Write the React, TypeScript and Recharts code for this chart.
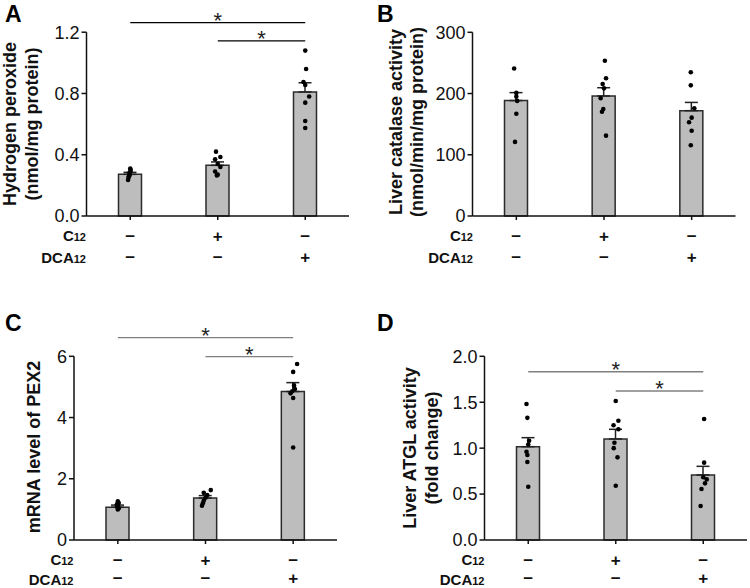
import React from 'react'
import { ComposedChart, Bar, ErrorBar, Scatter, XAxis, YAxis, ReferenceLine } from 'recharts'

const FONT = '"Liberation Sans", Arial, sans-serif'

// treatment groups, and the +/- table shown under every panel
const groups = ['ctrl', 'c12', 'dca12']
const c12Row = ['−', '+', '−']
const dca12Row = ['−', '−', '+']

// A: hydrogen peroxide (nmol/mg protein)
const h2o2Mean = [0.272, 0.331, 0.81]
const h2o2Sem = [0.013, 0.022, 0.06]
const h2o2Dots = [
  { g: 0.0, v: 0.31 }, { g: 0.005, v: 0.3 }, { g: 0.0, v: 0.29 }, { g: -0.01, v: 0.28 },
  { g: -0.005, v: 0.27 }, { g: -0.015, v: 0.26 }, { g: -0.02, v: 0.25 }, { g: -0.025, v: 0.235 },
  { g: 0.98, v: 0.42 }, { g: 1.03, v: 0.385 }, { g: 0.97, v: 0.37 }, { g: 1.0, v: 0.34 },
  { g: 1.03, v: 0.32 }, { g: 0.97, v: 0.29 }, { g: 1.0, v: 0.27 }, { g: 0.99, v: 0.265 },
  { g: 2.0, v: 1.08 }, { g: 2.01, v: 0.96 }, { g: 1.98, v: 0.875 }, { g: 2.0, v: 0.855 },
  { g: 2.045, v: 0.78 }, { g: 2.0, v: 0.74 }, { g: 2.0, v: 0.62 }, { g: 2.0, v: 0.575 },
]
const h2o2Ticks = [0, 0.4, 0.8, 1.2]

// B: liver catalase activity (nmol/min/mg protein)
const catMean = [188.5, 196, 172]
const catSem = [13, 13.5, 13.5]
const catDots = [
  { g: -0.025, v: 241 }, { g: 0.0, v: 201 }, { g: 0.0, v: 195 }, { g: 0.01, v: 188 },
  { g: 0.0, v: 167 }, { g: -0.015, v: 121 },
  { g: 1.01, v: 253.6 }, { g: 1.023, v: 224.9 }, { g: 0.985, v: 215.6 }, { g: 1.0, v: 208.5 },
  { g: 0.962, v: 192.2 }, { g: 0.992, v: 174.7 }, { g: 0.977, v: 170.3 }, { g: 1.023, v: 131.2 },
  { g: 1.99, v: 234.7 }, { g: 1.99, v: 213.4 }, { g: 2.03, v: 175.9 }, { g: 2.0, v: 160.6 },
  { g: 1.97, v: 153 }, { g: 2.0, v: 139.3 }, { g: 1.99, v: 115.5 },
]
const catTicks = [0, 100, 200, 300]

// C: mRNA level of PEX2
const pexMean = [1.07, 1.37, 4.85]
const pexSem = [0.07, 0.08, 0.29]
const pexDots = [
  { g: 0.0, v: 1.26 }, { g: 0.01, v: 1.21 }, { g: -0.01, v: 1.17 }, { g: 0.0, v: 1.13 },
  { g: -0.01, v: 1.09 }, { g: 0.01, v: 1.04 }, { g: 0.0, v: 1.0 },
  { g: 1.06, v: 1.63 }, { g: 0.98, v: 1.54 }, { g: 1.02, v: 1.47 }, { g: 1.0, v: 1.38 },
  { g: 0.98, v: 1.28 }, { g: 0.97, v: 1.2 }, { g: 0.96, v: 1.12 },
  { g: 2.045, v: 5.75 }, { g: 2.0, v: 5.49 }, { g: 2.01, v: 5.05 }, { g: 2.02, v: 4.93 },
  { g: 1.99, v: 4.86 }, { g: 1.97, v: 4.79 }, { g: 2.0, v: 4.64 }, { g: 2.0, v: 3.02 },
]
const pexTicks = [0, 2, 4, 6]

// D: liver ATGL activity (fold change)
const atglMean = [1.016, 1.1, 0.708]
const atglSem = [0.098, 0.105, 0.094]
const atglDots = [
  { g: -0.02, v: 1.48 }, { g: -0.01, v: 1.33 }, { g: 0.01, v: 1.08 }, { g: 0.0, v: 1.04 },
  { g: -0.02, v: 0.96 }, { g: -0.01, v: 0.925 }, { g: -0.01, v: 0.85 }, { g: 0.0, v: 0.58 },
  { g: 1.0, v: 1.513 }, { g: 1.03, v: 1.299 }, { g: 0.975, v: 1.249 }, { g: 1.03, v: 1.205 },
  { g: 0.985, v: 1.059 }, { g: 0.977, v: 1.0 }, { g: 1.02, v: 0.9 }, { g: 1.0, v: 0.591 },
  { g: 2.01, v: 1.317 }, { g: 2.01, v: 0.842 }, { g: 2.0, v: 0.683 }, { g: 2.04, v: 0.66 },
  { g: 2.02, v: 0.617 }, { g: 1.98, v: 0.555 }, { g: 1.97, v: 0.37 },
]
const atglTicks = [0, 0.5, 1, 1.5, 2]

// significance brackets: [from group, to group, height in data units]
const h2o2Brackets: [number, number, number][] = [[0, 2, 1.263], [1, 2, 1.143]]
const pexBrackets: [number, number, number][] = [[0, 2, 6.61], [1, 2, 5.99]]
const atglBrackets: [number, number, number][] = [[0, 2, 1.832], [1, 2, 1.622]]

// rows of the +/- table; second row sits a bit higher in the bottom panels (page edge)
const makeSignTick = (row2: number) => (props: any) => {
  const { x, y, index } = props
  return (
    <g fontFamily={FONT} fontSize={17} fontWeight="bold" fill="#111" textAnchor="middle">
      <text x={x} y={y + 19.6}>{c12Row[index]}</text>
      <text x={x} y={y + row2}>{dca12Row[index]}</text>
    </g>
  )
}

const starLabel = (props: any) => {
  const vb = props.viewBox || {}
  const x1 = vb.x1 ?? vb.x
  const x2 = vb.x2 ?? vb.x + (vb.width || 0)
  const y = vb.y1 ?? vb.y
  return (
    <text x={(x1 + x2) / 2} y={y + 5} textAnchor="middle" fontSize={22} fontFamily={FONT} fill="#222">*</text>
  )
}

interface PanelProps {
  means: number[]
  sems: number[]
  dots: { g: number; v: number }[]
  domain: [number, number]
  ticks: number[]
  fmt: (v: number) => string
  brackets?: [number, number, number][]
  bracketColor?: string
  row2: number
  margin: { top: number; right: number; bottom: number; left: number }
}

function Panel({ means, sems, dots, domain, ticks, fmt, brackets = [], bracketColor = '#000', row2, margin }: PanelProps) {
  const bars = groups.map((name, i) => ({ name, mean: means[i], err: [0, sems[i]] }))
  const axisStyle = { stroke: '#111', strokeWidth: 1.5 }
  return (
    <ComposedChart width={375} height={294} data={bars} margin={margin}>
      <XAxis
        xAxisId="cat"
        dataKey="name"
        interval={0}
        height={40}
        tickSize={4}
        axisLine={axisStyle}
        tickLine={axisStyle}
        tick={makeSignTick(row2)}
      />
      <XAxis xAxisId="num" type="number" dataKey="g" domain={[-0.5, 2.5]} hide />
      <YAxis
        domain={domain}
        ticks={ticks}
        width={60}
        tickSize={5}
        tickMargin={2}
        tickFormatter={fmt}
        axisLine={axisStyle}
        tickLine={axisStyle}
        tick={{ fill: '#111', fontSize: 18, fontFamily: FONT }}
        interval={0}
      />
      <Bar
        xAxisId="cat"
        dataKey="mean"
        barSize={23}
        fill="#bdbdbd"
        stroke="#2b2b2b"
        strokeWidth={1.5}
        isAnimationActive={false}
      >
        <ErrorBar dataKey="err" direction="y" width={6.5} stroke="#222" strokeWidth={1.5} />
      </Bar>
      <Scatter
        xAxisId="num"
        data={dots}
        dataKey="v"
        isAnimationActive={false}
        shape={(p: any) => <circle cx={p.cx} cy={p.cy} r={2.3} fill="#000" />}
      />
      {brackets.map(([a, b, y], i) => (
        <ReferenceLine
          key={i}
          xAxisId="cat"
          segment={[{ x: groups[a], y }, { x: groups[b], y }]}
          ifOverflow="visible"
          stroke={bracketColor}
          strokeWidth={1.3}
          label={starLabel}
        />
      ))}
    </ComposedChart>
  )
}

const RowLabels = ({ x, y, row2 }: { x: number; y: number; row2: number }) => (
  <g fontFamily={FONT} fontWeight="bold" fill="#111" textAnchor="end">
    <text x={x} y={y + 25.4} fontSize={15}>C<tspan fontSize={11}>12</tspan></text>
    <text x={x} y={y + row2} fontSize={15}>DCA<tspan fontSize={11}>12</tspan></text>
  </g>
)

const YTitle = ({ x, y, lines }: { x: number; y: number; lines: string[] }) => (
  <g fontFamily={FONT} fontWeight="bold" fontSize={18} fill="#111" textAnchor="middle">
    {lines.map((t, i) => (
      <text key={i} transform={`translate(${x + i * 21.7},${y}) rotate(-90)`}>{t}</text>
    ))}
  </g>
)

const one = (v: number) => v.toFixed(1)
const int = (v: number) => String(v)

export default function App() {
  const cell = (left: number, top: number): React.CSSProperties => ({ position: 'absolute', left, top })
  return (
    <div style={{ position: 'absolute', left: 0, top: 0, width: 750, height: 588, background: '#fff' }}>
      <div style={cell(0, 0)}>
        <Panel means={h2o2Mean} sems={h2o2Sem} dots={h2o2Dots} domain={[0, 1.2]} ticks={h2o2Ticks} fmt={one}
          brackets={h2o2Brackets} bracketColor="#000" row2={40.5}
          margin={{ top: 32.2, right: 26, bottom: 38, left: 26.5 }} />
      </div>
      <div style={cell(375, 0)}>
        <Panel means={catMean} sems={catSem} dots={catDots} domain={[0, 300]} ticks={catTicks} fmt={int}
          row2={40.5}
          margin={{ top: 32.3, right: 14.5, bottom: 38, left: 37.5 }} />
      </div>
      <div style={cell(0, 294)}>
        <Panel means={pexMean} sems={pexSem} dots={pexDots} domain={[0, 6]} ticks={pexTicks} fmt={int}
          brackets={pexBrackets} bracketColor="#808080" row2={38}
          margin={{ top: 62.3, right: 38, bottom: 8, left: 14 }} />
      </div>
      <div style={cell(375, 294)}>
        <Panel means={atglMean} sems={atglSem} dots={atglDots} domain={[0, 2]} ticks={atglTicks} fmt={one}
          brackets={atglBrackets} bracketColor="#808080" row2={38}
          margin={{ top: 62.3, right: 3, bottom: 8, left: 49.5 }} />
      </div>
      <svg width={750} height={588} style={{ position: 'absolute', left: 0, top: 0, pointerEvents: 'none' }}>
        <g fontFamily={FONT} fontWeight="bold" fontSize={23} fill="#000">
          <text x={5} y={22}>A</text>
          <text x={377} y={22}>B</text>
          <text x={5} y={331.3}>C</text>
          <text x={377} y={331.3}>D</text>
        </g>
        <YTitle x={16.2} y={124} lines={['Hydrogen peroxide', '(nmol/mg protein)']} />
        <YTitle x={401.5} y={122} lines={['Liver catalase activity', '(nmol/min/mg protein)']} />
        <YTitle x={39.5} y={447} lines={['mRNA level of PEX2']} />
        <YTitle x={416} y={448} lines={['Liver ATGL activity', '(fold change)']} />
        <RowLabels x={86} y={216} row2={47} />
        <RowLabels x={473} y={216} row2={47} />
        <RowLabels x={73.5} y={540} row2={44.5} />
        <RowLabels x={484.5} y={540} row2={44.5} />
      </svg>
    </div>
  )
}
